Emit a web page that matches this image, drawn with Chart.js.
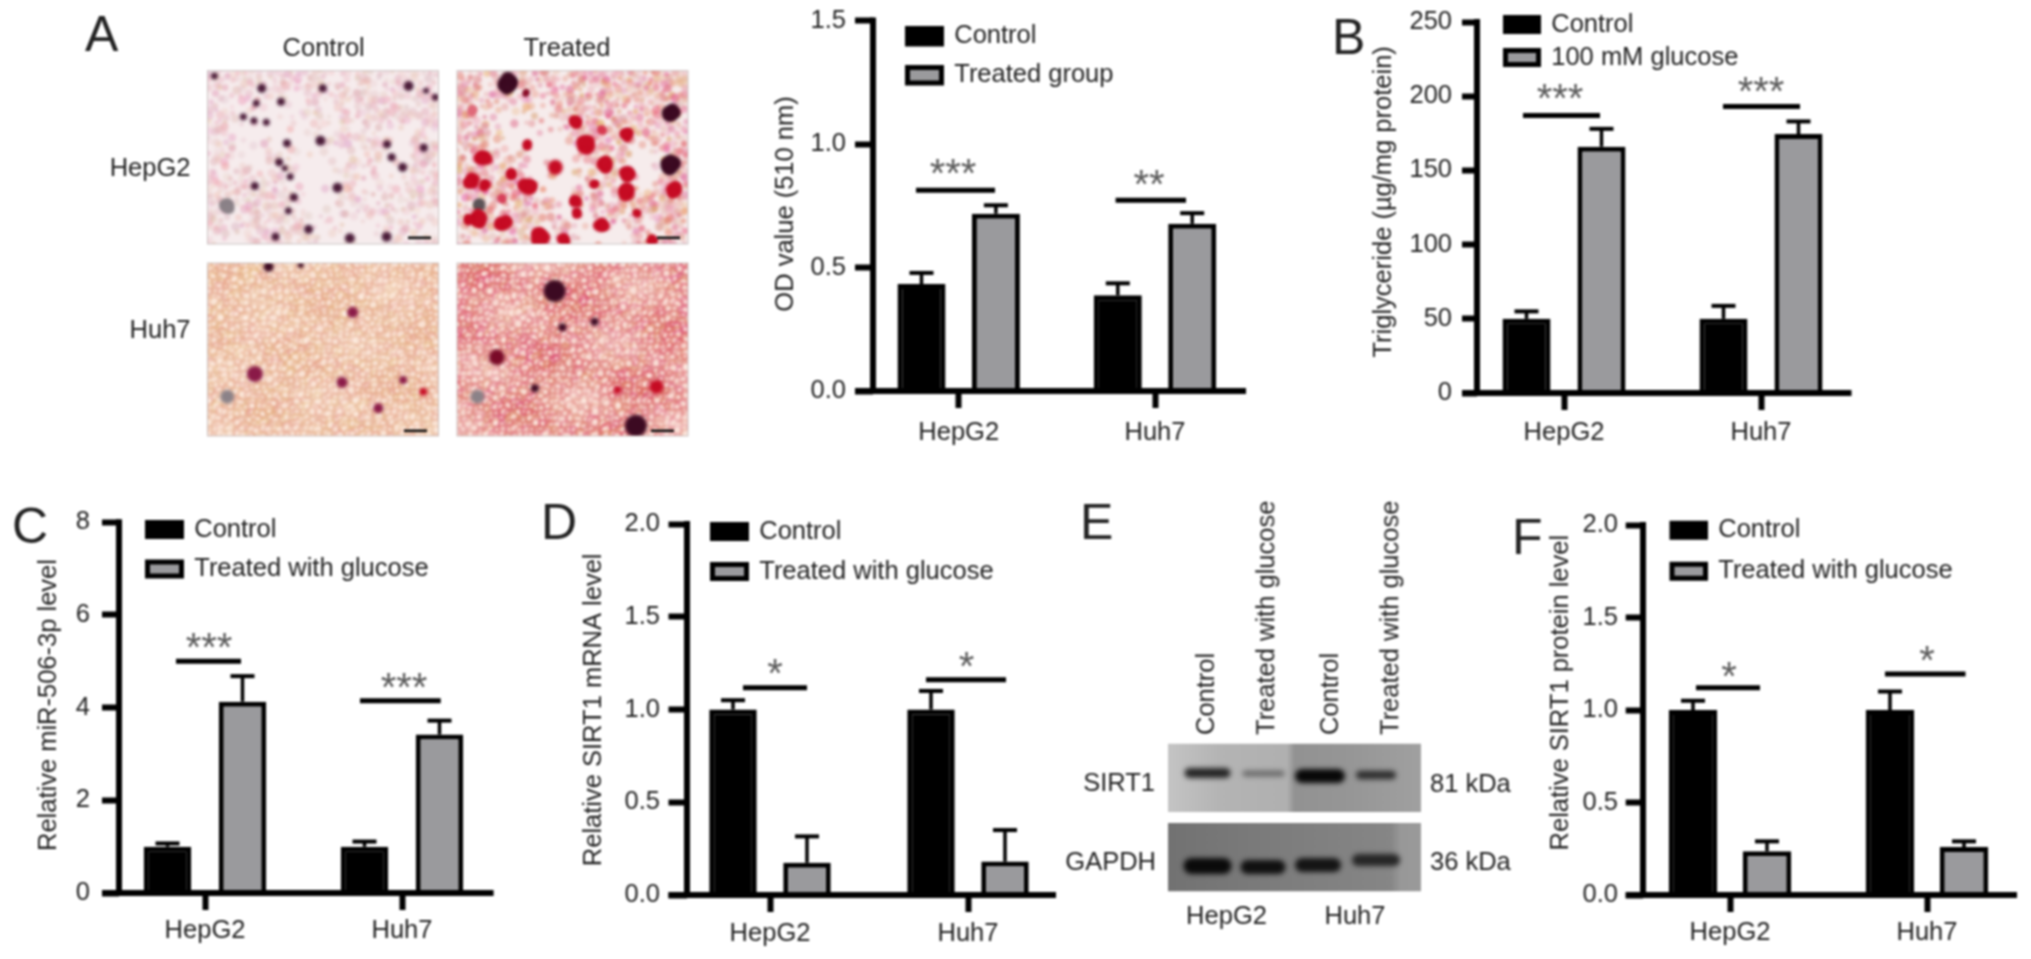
<!DOCTYPE html>
<html><head><meta charset="utf-8">
<script src="https://cdn.jsdelivr.net/npm/chart.js@4"></script>
<style>
html,body{margin:0;padding:0;background:#fff;overflow:hidden}
#fig{position:relative;width:2031px;height:959px;overflow:hidden;background:#fff;filter:blur(.8px)}
#fig canvas{position:absolute}
.t{position:absolute;font-family:"Liberation Sans",Arial,sans-serif;color:#222;line-height:1;white-space:nowrap}
</style></head><body><div id="fig"><canvas id="art" width="2031" height="959" style="left:0;top:0"></canvas></div>
<script>
// ---------- data ----------
const categories = ['HepG2','Huh7'];

const aControl = [0.433,0.388], aControlErr = [0.478,0.436];
const aTreated = [0.718,0.677], aTreatedErr = [0.752,0.720];
const aSigLevels = [0.813,0.772], aStars = ['***','**'];
const aTicks = ['0.0','0.5','1.0','1.5'];

const bControl = [50,50], bControlErr = [55,58.7];
const bTreated = [166,174.5], bTreatedErr = [178,183];
const bSigLevels = [187,193], bStars = ['***','***'];
const bTicks = ['0','50','100','150','200','250'];

const cControl = [1.0,1.0], cControlErr = [1.07,1.11];
const cTreated = [4.13,3.42], cTreatedErr = [4.68,3.72];
const cSigLevels = [5.0,4.15], cStars = ['***','***'];
const cTicks = ['0','2','4','6','8'];

const dControl = [1.0,1.0], dControlErr = [1.05,1.10];
const dTreated = [0.174,0.18], dTreatedErr = [0.316,0.35];
const dSigLevels = [1.117,1.16], dStars = ['*','*'];
const dTicks = ['0.0','0.5','1.0','1.5','2.0'];

const fControl = [1.0,1.0], fControlErr = [1.05,1.10];
const fTreated = [0.237,0.259], fTreatedErr = [0.29,0.29];
const fSigLevels = [1.12,1.195], fStars = ['*','*'];
const fTicks = ['0.0','0.5','1.0','1.5','2.0'];

// ---------- shared style ----------
const FONT='"Liberation Sans",Arial,sans-serif', FS=25.5, INK='#222', GRAY='#9a9a9d', EDGE=5;
const fig=document.getElementById('fig');

function label(text,x,y,anchor,size,rot){
  const d=document.createElement('div');d.className='t';d.textContent=text;
  d.style.fontSize=(size||FS)+'px';d.style.left=x+'px';d.style.top=y+'px';
  const ax={l:'0',c:'-50%',r:'-100%'}[anchor||'l'];
  d.style.transform= rot? `rotate(-90deg) translate(0,-50%)` : `translate(${ax},-50%)`;
  if(rot)d.style.transformOrigin='0 0';
  fig.appendChild(d);
}

// ---------- one bar panel ----------
function panel(p){
  const step=p.c2-p.c1, L=p.c1-step/2, R=p.c2+step/2;
  const canvasLeft=Math.floor(p.titleX-25), canvasTop=Math.floor(Math.min(p.T,p.legendTop)-25);
  const canvasRight=Math.ceil(Math.max(R,p.xEnd)+8), canvasBottom=p.B+62;
  const cv=document.createElement('canvas');
  cv.width=canvasRight-canvasLeft;cv.height=canvasBottom-canvasTop;
  cv.style.left=canvasLeft+'px';cv.style.top=canvasTop+'px';
  fig.appendChild(cv);
  const cat=p.barStep/step*2;
  const lh=FS*1.2;
  const frame={
    id:'frame',
    afterLayout(ch){
      const y=ch.scales.y;
      y.right=p.axisX-canvasLeft;
      const shift=p.titleY-(p.T+p.B)/2;
      y.top+=shift;y.bottom+=shift;
      const lg=ch.legend,pad=p.legendGap-FS;
      lg.left=p.legendLeft+EDGE/2-pad-canvasLeft;
      lg.top=p.legendTop+EDGE/2-Math.max((FS-p.boxH+EDGE)/2,0)-pad-canvasTop;
      lg.right=lg.left+420;lg.bottom=lg.top+140;lg.width=420;lg.height=140;
    },
    afterDatasetsDraw(ch){
      const c=ch.ctx,x=ch.scales.x,y=ch.scales.y;
      c.save();c.strokeStyle='#000';c.lineCap='butt';
      // error bars, from the series values through the value scale
      [[0,p.err1],[1,p.err2]].forEach(([ds,errs])=>{
        ch.getDatasetMeta(ds).data.forEach((el,i)=>{
          const yTop=y.getPixelForValue(errs[i]);
          c.lineWidth=3.5;c.beginPath();c.moveTo(el.x,el.y);c.lineTo(el.x,yTop);c.stroke();
          c.lineWidth=4;c.beginPath();c.moveTo(el.x-p.cap,yTop);c.lineTo(el.x+p.cap,yTop);c.stroke();
        });
      });
      // significance brackets and stars
      p.sig.forEach((s,i)=>{
        const yS=y.getPixelForValue(p.sigLevels[i]);
        c.lineWidth=5;
        c.beginPath();c.moveTo(s[0]-canvasLeft,yS);c.lineTo(s[1]-canvasLeft,yS);c.stroke();
        const size=40;
        c.fillStyle='#5c5c5c';c.font=size+'px '+FONT;c.textAlign='center';c.textBaseline='alphabetic';
        c.fillText(p.stars[i],s[2]-canvasLeft,s[3]-canvasTop+size*0.475);
      });
      // axis lines
      const y0=y.getPixelForValue(0);
      c.lineWidth=6;
      c.beginPath();c.moveTo(p.axisX-canvasLeft,y.getPixelForValue(p.max)-3);c.lineTo(p.axisX-canvasLeft,y0);c.stroke();
      c.beginPath();c.moveTo(p.axisX-p.yTick-canvasLeft,y0);c.lineTo(p.xEnd-canvasLeft,y0);c.stroke();
      c.restore();
    }
  };
  new Chart(cv,{
    type:'bar',
    data:{labels:categories,datasets:[
      {label:'Control',data:p.s1,backgroundColor:'#000',borderColor:'#000',borderWidth:EDGE,clip:false},
      {label:p.name2,data:p.s2,backgroundColor:GRAY,borderColor:'#000',borderWidth:EDGE,clip:false}
    ]},
    plugins:[frame],
    options:{
      responsive:false,animation:false,devicePixelRatio:1,
      layout:{padding:{top:p.T-canvasTop,right:canvasRight-R,left:0,bottom:0}},
      datasets:{bar:{categoryPercentage:cat,barPercentage:p.barW/p.barStep}},
      plugins:{
        tooltip:{enabled:false},
        legend:{display:true,position:'chartArea',align:'start',
          labels:{font:{family:FONT,size:FS},color:INK,boxWidth:p.boxW-EDGE,boxHeight:p.boxH-EDGE,padding:p.legendGap-FS}}
      },
      scales:{
        x:{type:'category',offset:true,
          afterFit(s){s.height=canvasBottom-p.B;},
          border:{display:false},
          grid:{display:true,drawOnChartArea:false,drawTicks:true,tickLength:17,tickWidth:6,tickColor:'#000',offset:false},
          ticks:{font:{family:FONT,size:FS},color:INK,padding:p.xPad,maxRotation:0}},
        y:{type:'linear',min:0,max:p.max,
          afterFit(s){s.width=L-canvasLeft;},
          border:{display:false},
          grid:{display:true,drawOnChartArea:false,drawTicks:true,tickLength:p.yTick,tickWidth:6,tickColor:'#000'},
          ticks:{stepSize:p.stepSize,font:{family:FONT,size:FS},color:INK,padding:p.yPad,callback:(v,i)=>p.ticks[i]},
          title:{display:true,text:p.title,font:{family:FONT,size:FS},color:INK,padding:{top:25-lh/2,bottom:0}}}
      }
    }
  });
}

panel({s1:aControl,s2:aTreated,err1:aControlErr,err2:aTreatedErr,sigLevels:aSigLevels,stars:aStars,ticks:aTicks,name2:'Treated group',
  title:'OD value (510 nm)',titleX:786,titleY:204,axisX:873,T:20.5,B:391,max:1.5,stepSize:.5,c1:958.7,c2:1155,xEnd:1246,
  barStep:74.4,barW:48,cap:12,yTick:18,yPad:9,xPad:10,legendLeft:905,legendTop:26,boxW:39,boxH:20.5,legendGap:39,
  sig:[[916,995,953,167.5],[1115.6,1186,1149,179]]});
panel({s1:bControl,s2:bTreated,err1:bControlErr,err2:bTreatedErr,sigLevels:bSigLevels,stars:bStars,ticks:bTicks,name2:'100 mM glucose',
  title:'Triglyceride (µg/mg protein)',titleX:1384,titleY:202,axisX:1477,T:22,B:393.3,max:250,stepSize:50,c1:1564,c2:1761,xEnd:1851.5,
  barStep:75,barW:48,cap:12,yTick:15,yPad:10,xPad:8,legendLeft:1503,legendTop:15,boxW:38,boxH:19,legendGap:33,
  sig:[[1523,1600,1560,92.7],[1723,1800,1761,86]]});
panel({s1:cControl,s2:cTreated,err1:cControlErr,err2:cTreatedErr,sigLevels:cSigLevels,stars:cStars,ticks:cTicks,name2:'Treated with glucose',
  title:'Relative miR-506-3p level',titleX:49.6,titleY:705,axisX:119,T:521.7,B:893.5,max:8,stepSize:2,c1:205,c2:402,xEnd:493.6,
  barStep:75,barW:47.5,cap:12,yTick:17,yPad:12,xPad:6,legendLeft:145,legendTop:520,boxW:39,boxH:19,legendGap:39.5,
  sig:[[176,241,209,641.7],[360,440.7,404,682]]});
panel({s1:dControl,s2:dTreated,err1:dControlErr,err2:dTreatedErr,sigLevels:dSigLevels,stars:dStars,ticks:dTicks,name2:'Treated with glucose',
  title:'Relative SIRT1 mRNA level',titleX:594,titleY:710,axisX:687,T:524,B:895.3,max:2,stepSize:.5,c1:770,c2:968,xEnd:1056,
  barStep:74,barW:47.5,cap:12,yTick:18.5,yPad:8.5,xPad:7,legendLeft:710,legendTop:522,boxW:39,boxH:19,legendGap:40,
  sig:[[743,807,775,667.7],[926,1006,966.5,661]]});
panel({s1:fControl,s2:fTreated,err1:fControlErr,err2:fTreatedErr,sigLevels:fSigLevels,stars:fStars,ticks:fTicks,name2:'Treated with glucose',
  title:'Relative SIRT1 protein level',titleX:1561.6,titleY:693,axisX:1643,T:525,B:895.7,max:2,stepSize:.5,c1:1730,c2:1927,xEnd:2017,
  barStep:74,barW:48.5,cap:12,yTick:17.3,yPad:7.7,xPad:6,legendLeft:1669.5,legendTop:520.7,boxW:38.5,boxH:19,legendGap:41,
  sig:[[1696,1760,1729,670.7],[1885,1965.5,1927,655]]});

// ---------- panel letters and plain labels ----------
[['A',85,34],['B',1332,37],['C',12,526],['D',541,522],['E',1080,522],['F',1512,537]].forEach(l=>label(l[0],l[1],l[2],'l',50));
label('Control',323.7,48,'c');label('Treated',567,48,'c');
label('HepG2',190.5,168,'r');label('Huh7',190.5,330,'r');
[1206.4,1266,1330,1390].forEach((x,i)=>{
  label(i%2?'Treated with glucose':'Control',x,735,'l',FS,true);
});
label('SIRT1',1155,783,'r');label('GAPDH',1156,862,'r');
label('81 kDa',1430,784,'l');label('36 kDa',1430,862,'l');
label('HepG2',1226.5,916,'c');label('Huh7',1355,916,'c');

// ---------- illustrations (not data): micrographs and blots ----------
const g=document.getElementById('art').getContext('2d');
let seed=12345;function rnd(){seed=(seed*16807)%2147483647;return seed/2147483647;}
const zx=v=>v/2.178, zy=v=>v/3;   // crop coordinates to page pixels
function lump(x,y,r,col){ // irregular stain
  g.fillStyle=col;
  g.beginPath();g.arc(x,y,r*.9,0,7);g.fill();
  for(let i=0;i<9;i++){const a=rnd()*6.28,d=r*(.3+rnd()*.35);
    g.beginPath();g.arc(x+Math.cos(a)*d,y+Math.sin(a)*d,r*(.4+rnd()*.25),0,7);g.fill();}
}
function dots(list,col){
  list.forEach(d=>{g.fillStyle=d[3]||col;g.beginPath();g.arc(zx(d[0]),zy(d[1]),d[2],0,7);g.fill();});
}
function field(x,y,w,h,fn){
  for(let py=y;py<y+h;py+=5.5)for(let px=x;px<x+w;px+=5.5){
    const jx=px+rnd()*4,jy=py+rnd()*4,r=2+rnd()*2.4;fn(jx,jy,r,(jx-x)/w,(jy-y)/h);
  }
}
function clear(u,v){ // paler zones of the HepG2 fields
  const e=(cu,cv,su,sv)=>Math.exp(-(((u-cu)**2)/su+((v-cv)**2)/sv));
  return Math.min(1,e(.26,.34,.025,.04)+e(.47,.62,.012,.08)+e(.8,.55,.01,.03)+e(.65,.95,.02,.01)+e(.1,.9,.004,.02)*.7);
}
function patchy(u,v){return .5+.25*Math.sin(u*13+v*5)+.25*Math.sin(v*17-u*7+1.3);}
function photo(x,y,w,h,kind,paint,bar){
  g.save();g.beginPath();g.rect(x,y,w,h);g.clip();
  g.filter='blur(0.9px)';
  if(kind===0){
    g.fillStyle='#f6eced';g.fillRect(x,y,w,h);
    field(x,y,w,h,(a,b,r,u,v)=>{const k=1-clear(u,v);if(rnd()<k*.75){g.fillStyle=`rgba(${215+rnd()*25},${145+rnd()*50},${155+rnd()*40},${.2+rnd()*.3})`;g.beginPath();g.arc(a,b,r,0,7);g.fill();}});
  }else if(kind===1){
    g.fillStyle='#f6ecec';g.fillRect(x,y,w,h);
    field(x,y,w,h,(a,b,r,u,v)=>{const k=1-clear(u,v);if(rnd()<k*.9){g.fillStyle=`rgba(${215+rnd()*20},${70+rnd()*100},${80+rnd()*80},${.2+rnd()*.4})`;g.beginPath();g.arc(a,b,r,0,7);g.fill();}});
  }else{
    const hot=kind===3;
    g.fillStyle=hot?'#efc2b9':'#f1d0bc';g.fillRect(x,y,w,h);
    field(x,y,w,h,(a,b,r,u,v)=>{const n=patchy(u,v);
      g.strokeStyle=hot?`rgba(212,${35+rnd()*70},${50+rnd()*50},${.3+n*.6})`:`rgba(224,${130+rnd()*40},${95+rnd()*30},${.4+n*.35})`;
      g.lineWidth=1.6;g.fillStyle='rgba(255,242,232,.7)';
      g.beginPath();g.arc(a,b,r+.6,0,7);g.fill();g.stroke();});
  }
  g.filter='blur(1.6px)';
  paint();
  g.filter='none';g.fillStyle='#111';g.fillRect(bar[0],bar[1]-1.2,23,2.6);
  g.restore();
  g.strokeStyle='rgba(190,180,180,.8)';g.lineWidth=1;g.strokeRect(x,y,w,h);
}
const RED='#c60c24',MAR='#3c0a22',GRY='#8b8288',MAG='#8a1a48';
const hepDots=[[570,265,4.5],[558,310,3.5],[612,305,4],[530,350,3.5],[553,362,3.5],[580,367,3.5],[703,265,4],[890,258,5],[928,272,3],[948,292,3.5],[625,430,4],[698,422,5],[608,487,4],[620,505,3],[632,530,3.5],[735,563,5],[640,592,4],[628,632,3.5],[843,433,4],[923,443,4],[853,472,4],[877,502,4.5],[672,688,4.5],[762,715,5],[600,710,4],[842,710,5],[555,558,4],[467,228,3.5]];
photo(207.5,70.7,231,173.3,0,()=>{lump(zx(495),zy(618),7,GRY);dots(hepDots,'#4a1b38');},[408,237.7]);
// stains of the treated HepG2 field, in 3x crop pixels of that photo
const stains=[[150,40,30,MAR],[640,130,26,MAR],[640,285,30,MAR],[208,70,9,'#8a0a28'],[68,405,17,'#5c5458'],
 [80,265,23,RED],[385,225,28,RED],[443,285,24,RED],[355,155,19,RED],[210,225,13,RED],[510,195,20,RED],[210,350,26,RED],
 [160,315,16,RED],[45,335,22,RED],[85,345,16,RED],[65,445,26,RED],[35,450,14,RED],[140,460,24,RED],[430,465,21,RED],[412,342,12,RED],
 [355,395,18,RED],[360,430,14,RED],[510,310,24,RED],[510,370,26,RED],[650,360,23,RED],[250,505,30,RED],[320,510,18,RED],[585,510,15,RED],
 [540,430,11,RED],[135,385,12,'#d8405a'],[45,120,14,'#e06a7a'],[435,180,12,'#d83a50']];
photo(457,70.7,231,173.3,1,()=>{
  stains.forEach(s=>lump(457+s[0]/3,70+s[1]/3,s[2]/3,s[3]));
  g.fillStyle=RED;g.beginPath();g.arc(457+295/3,70+292/3,7.5,0,7);g.fill();
},[657,237.7]);
photo(207.5,263,231,173,2,()=>dots([[768,937,5.5,MAG],[555,1122,8,MAG],[745,1147,5.5,MAG],[878,1140,4,MAG],[922,1175,4,RED],[824,1225,5,MAG],[585,800,5,MAR],[655,795,3,MAR],[495,1190,7,GRY]]),[404,430.7]);
photo(457,263,231,173,3,()=>dots([[1208,873,11,MAR],[1082,1072,8,'#7a0a28'],[1385,1277,11,MAR],[1295,965,4,MAR],[1225,982,4,MAR],[1165,1165,4,MAR],[1345,1170,4,RED],[1430,1160,7,RED],[1040,1190,7,GRY]]),[651,430.7]);

function blot(x,y,w,h,stops,bands){
  g.save();g.beginPath();g.rect(x,y,w,h);g.clip();
  const gr=g.createLinearGradient(x,0,x+w,0);stops.forEach(s=>gr.addColorStop(s[0],s[1]));
  g.fillStyle=gr;g.fillRect(x,y,w,h);
  g.filter='blur(2.4px)';
  bands.forEach(b=>{g.fillStyle=b[4];g.beginPath();g.roundRect(b[0]-b[2],b[1]-b[3],b[2]*2,b[3]*2,b[3]);g.fill();});
  g.filter='none';g.restore();
}
blot(1168,743.5,253,68.5,[[0,'#c4c4c4'],[.2,'#b4b4b4'],[.47,'#b0b0b0'],[.5,'#929292'],[.72,'#969696'],[1,'#a0a0a0']],
 [[1207.5,773,23,5,'#262626'],[1263.5,773.5,21,3,'#6a6a6a'],[1320,776,25,7,'#080808'],[1376,775,20,4.2,'#2e2e2e']]);
blot(1168,823,253,68.5,[[0,'#727272'],[.5,'#7e7e7e'],[.88,'#868686'],[.92,'#989898'],[1,'#9a9a9a']],
 [[1207.5,866,24,8,'#0a0a0a'],[1263,867,22.5,7,'#101010'],[1318,865,23,7,'#141414'],[1376,860,24,6,'#262626']]);
</script></body></html>
